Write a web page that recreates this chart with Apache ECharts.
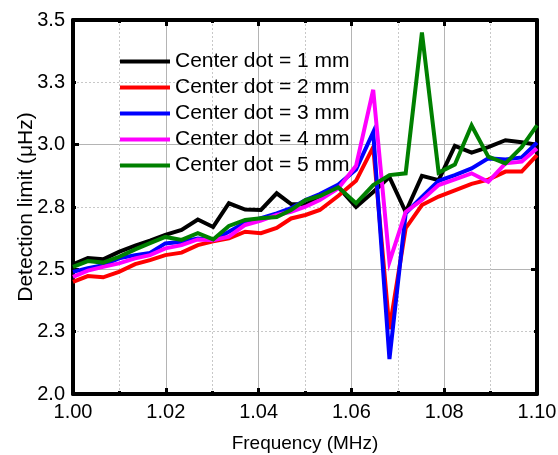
<!DOCTYPE html>
<html>
<head>
<meta charset="utf-8">
<script src="https://cdn.jsdelivr.net/npm/echarts@6/dist/echarts.min.js"></script>
<style>
html,body{margin:0;padding:0;background:#fff;}
#chart{width:558px;height:455px;}
</style>
</head>
<body>
<div id="chart"></div>
<script>
// Frequency (MHz) of each measured point
const freq = [1.0000,1.0032,1.0065,1.0099,1.0134,1.0166,1.0199,1.0234,1.0269,1.0302,
              1.0336,1.0371,1.0405,1.0439,1.0470,1.0501,1.0532,1.0572,1.0610,1.0647,
              1.0682,1.0717,1.0752,1.0788,1.0823,1.0859,1.0895,1.0932,1.0967,1.1000];

const seriesNames = ['Center dot = 1 mm','Center dot = 2 mm','Center dot = 3 mm','Center dot = 4 mm','Center dot = 5 mm'];

const dot1mm = [2.52,2.545,2.54,2.57,2.595,2.615,2.638,2.658,2.70,2.67,
                2.765,2.74,2.738,2.805,2.762,2.76,2.79,2.83,2.75,2.81,
                2.87,2.73,2.875,2.858,2.995,2.968,2.99,3.018,3.01,3.0];
const dot2mm = [2.45,2.473,2.468,2.49,2.521,2.537,2.557,2.567,2.597,2.612,
                2.624,2.651,2.645,2.666,2.704,2.718,2.738,2.795,2.855,2.99,
                2.26,2.665,2.758,2.792,2.817,2.843,2.86,2.892,2.892,2.958];
const dot3mm = [2.49,2.505,2.517,2.544,2.557,2.566,2.604,2.611,2.624,2.618,
                2.651,2.687,2.705,2.724,2.745,2.778,2.802,2.84,2.90,3.05,
                2.14,2.725,2.79,2.855,2.878,2.905,2.945,2.941,2.949,3.008];
const dot4mm = [2.47,2.495,2.51,2.524,2.544,2.557,2.584,2.597,2.62,2.617,
                2.631,2.678,2.695,2.718,2.731,2.751,2.778,2.825,2.915,3.22,
                2.53,2.73,2.778,2.838,2.861,2.885,2.851,2.925,2.932,2.985];
const dot5mm = [2.51,2.533,2.527,2.55,2.58,2.605,2.63,2.618,2.645,2.62,
                2.674,2.698,2.705,2.71,2.738,2.778,2.794,2.829,2.765,2.838,
                2.878,2.885,3.45,2.888,2.92,3.077,2.952,2.925,2.99,3.077];

const seriesColors = ['#000000','#ff0000','#0000ff','#ff00ff','#008000'];

const yTickValues = [2.0,2.25,2.5,2.75,3.0,3.25,3.5];
const yTickLabels = ['2.0','2.3','2.5','2.8','3.0','3.3','3.5'];
const xTickValues = [1.00,1.02,1.04,1.06,1.08,1.10];
const xTickLabels = ['1.00','1.02','1.04','1.06','1.08','1.10'];

const FONT = "'Liberation Sans', Arial, sans-serif";

function yFmt(v){
  for (let i=0;i<yTickValues.length;i++) if (Math.abs(v-yTickValues[i])<1e-6) return yTickLabels[i];
  return '';
}
function xFmt(v){
  for (let i=0;i<xTickValues.length;i++) if (Math.abs(v-xTickValues[i])<1e-6) return xTickLabels[i];
  return '';
}

const allVals = [dot1mm,dot2mm,dot3mm,dot4mm,dot5mm];
const chart = echarts.init(document.getElementById('chart'), null, {renderer:'canvas'});

const axisLineStyle = {color:'#000', width:4};
const gridSolid = {color:'#b4b4b4', width:1, type:'solid'};
const gridDash = {color:'#c8c8c8', width:1, type:[2,2]};

const option = {
  animation:false,
  backgroundColor:'#fff',
  grid:{left:73, right:21, top:20, bottom:61, containLabel:false, outerBoundsMode:'none'},
  legend:{
    orient:'vertical', left:120, top:51, padding:0,
    icon:'rect', itemWidth:50, itemHeight:4, itemGap:5,
    textStyle:{fontFamily:FONT, fontSize:21, color:'#000', lineHeight:21},
    data:seriesNames
  },
  xAxis:[
    {type:'value', position:'bottom', min:1.0, max:1.1, interval:0.02,
     axisLine:{show:true, onZero:false, lineStyle:axisLineStyle},
     axisTick:{show:true, inside:true, length:6, lineStyle:{color:'#000', width:3}},
     minorTick:{show:true, splitNumber:2, length:3, lineStyle:{color:'#000', width:3}},
     splitLine:{show:true, lineStyle:gridSolid},
     minorSplitLine:{show:true, lineStyle:gridDash},
     axisLabel:{formatter:xFmt, fontFamily:FONT, fontSize:20, color:'#000', margin:8},
     name:'Frequency (MHz)', nameLocation:'middle', nameGap:40,
     nameTextStyle:{fontFamily:FONT, fontSize:19, color:'#000'}},
    {type:'value', position:'top', min:1.0, max:1.1, interval:0.02,
     axisLine:{show:true, onZero:false, lineStyle:axisLineStyle},
     axisTick:{show:true, inside:true, length:6, lineStyle:{color:'#000', width:3}},
     minorTick:{show:true, splitNumber:2, length:3, lineStyle:{color:'#000', width:3}},
     splitLine:{show:false}, axisLabel:{show:false}}
  ],
  yAxis:[
    {type:'value', position:'left', min:2.0, max:3.5, interval:0.5,
     axisLine:{show:true, onZero:false, lineStyle:axisLineStyle},
     axisTick:{show:true, inside:true, length:6, lineStyle:{color:'#000', width:3}},
     minorTick:{show:true, splitNumber:2, length:3, lineStyle:{color:'#000', width:3}},
     splitLine:{show:true, lineStyle:gridSolid},
     minorSplitLine:{show:true, lineStyle:gridDash},
     axisLabel:{show:false},
     name:'Detection limit (μHz)', nameLocation:'middle', nameGap:36,
     nameTextStyle:{fontFamily:FONT, fontSize:21, color:'#000'}},
    {type:'value', position:'right', min:2.0, max:3.5, interval:0.5,
     axisLine:{show:true, onZero:false, lineStyle:axisLineStyle},
     axisTick:{show:true, inside:true, length:6, lineStyle:{color:'#000', width:3}},
     minorTick:{show:true, splitNumber:2, length:3, lineStyle:{color:'#000', width:3}},
     splitLine:{show:false}, axisLabel:{show:false}},
    {type:'value', position:'left', offset:0, min:2.0, max:3.5, interval:0.25,
     axisLine:{show:false}, axisTick:{show:false}, splitLine:{show:false},
     axisLabel:{formatter:yFmt, fontFamily:FONT, fontSize:20, color:'#000', margin:8}}
  ],
  series: allVals.map((vals, k) => ({
    name: seriesNames[k], type:'line', xAxisIndex:0, yAxisIndex:0,
    symbol:'none', showSymbol:false, smooth:false,
    data: freq.map((f,i) => [f, vals[i]]),
    color: seriesColors[k],
    lineStyle:{color:seriesColors[k], width:4, join:'miter', miterLimit:6},
    z: 2+k
  }))
};
chart.setOption(option);
</script>
</body>
</html>
